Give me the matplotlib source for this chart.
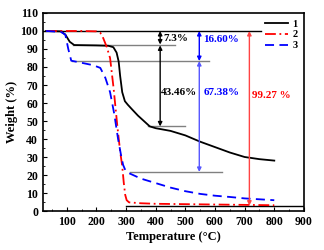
import numpy as np
import matplotlib.pyplot as plt
from matplotlib.ticker import MultipleLocator

plt.rcParams['font.family'] = ['Liberation Serif', 'DejaVu Serif']
plt.rcParams['font.weight'] = 'bold'

# curve 1 (black solid)
t1 = [30, 80, 95, 110, 125, 200, 240, 257, 268, 275, 280, 287, 296, 306, 320, 340, 360, 380, 400,
      450, 500, 550, 600, 650, 700, 750, 800]
w1 = [100, 99.8, 98, 94, 92.2, 92, 91.8, 91, 88, 83, 75, 66, 61, 59, 56.5, 53, 50, 47, 46,
      44.5, 42, 38.5, 35.5, 32.5, 30, 28.8, 28]
# curve 2 (red dash-dot)
t2 = [30, 150, 200, 213, 223, 235, 246, 258, 270, 280, 287, 292, 297, 302, 310, 350, 400, 500,
      600, 700, 800]
w2 = [100, 100, 99.8, 99, 96, 91, 85, 68, 48, 33, 25, 16, 9, 6, 4.8, 4.3, 4, 3.8, 3.6, 3.4, 3.2]
# curve 3 (blue dashed)
t3 = [30, 80, 95, 105, 115, 145, 189, 213, 230, 246, 260, 273, 283, 290, 298, 310, 350, 400, 450,
      500, 550, 600, 650, 700, 750, 800]
w3 = [100, 99.5, 98, 90, 83.5, 82.5, 81, 79.5, 74, 66, 54, 40, 31, 25.6, 22.5, 21, 18, 15.5, 13,
      11, 9.5, 8.5, 7.8, 7, 6.5, 6]

labels = ['1', '2', '3']

# reference levels (y, x-start, x-end, colour)
levels = [(100, 20, 755, 'black'), (92, 120, 466, 'gray'), (83.3, 118, 580, 'gray'),
          (47, 375, 500, 'gray'), (21.7, 314, 625, 'gray'), (3, 300, 900, 'black')]

fig = plt.figure(figsize=(3.24, 2.5), dpi=100)
ax = fig.add_axes([0.133, 0.156, 0.805, 0.792])

for y, xa, xb, c in levels:
    ax.plot([xa, xb], [y, y], color=c, lw=1)

ax.plot(t1, w1, color='black', lw=1.3, label=labels[0])
ax.plot(t2, w2, color='red', lw=1.3, ls=(0, (6, 2, 1, 2)), label=labels[1])
ax.plot(t3, w3, color='blue', lw=1.3, ls=(0, (5, 3)), label=labels[2])

def arrow(x, y0, y1, c):
    ax.annotate('', xy=(x, y1), xytext=(x, y0),
                arrowprops=dict(arrowstyle='<|-|>', color=c, lw=1,
                                mutation_scale=6, shrinkA=0, shrinkB=0))

arrow(415, 100, 92.5, 'black')
arrow(415, 92, 47, 'black')
arrow(547, 100, 83.3, 'blue')
arrow(547, 83.3, 21.7, '#5555ff')
arrow(716, 100, 3, '#ff4444')

ax.text(425, 96, '7.3%', fontsize=8, fontweight='bold', va='center')
ax.text(418, 66, '43.46%', fontsize=8, fontweight='bold', va='center')
ax.text(560, 95, '16.60%', fontsize=8, fontweight='bold', color='blue', va='center')
ax.text(560, 66, '67.38%', fontsize=8, fontweight='bold', color='blue', va='center')
ax.text(725, 64, '99.27 %', fontsize=8, fontweight='bold', color='red', va='center')

ax.set_xlim(20, 900)
ax.set_ylim(0, 110)
ax.xaxis.set_major_locator(MultipleLocator(100))
ax.xaxis.set_minor_locator(MultipleLocator(50))
ax.yaxis.set_major_locator(MultipleLocator(10))
ax.yaxis.set_minor_locator(MultipleLocator(5))
ax.tick_params(which='both', direction='in', labelsize=8.5)
ax.tick_params(which='major', length=3)
ax.tick_params(which='minor', length=1.5)
for s in ax.spines.values():
    s.set_linewidth(1.2)
ax.set_xlabel('Temperature (°C)', fontsize=9, fontweight='bold', labelpad=2)
ax.set_ylabel('Weight (%)', fontsize=9, fontweight='bold', labelpad=2)

ax.legend(loc='upper right', frameon=False, fontsize=7.5, handlelength=2.2,
          labelspacing=0.15, borderaxespad=0.2, handletextpad=0.4)

fig.savefig('out.png', dpi=100)
